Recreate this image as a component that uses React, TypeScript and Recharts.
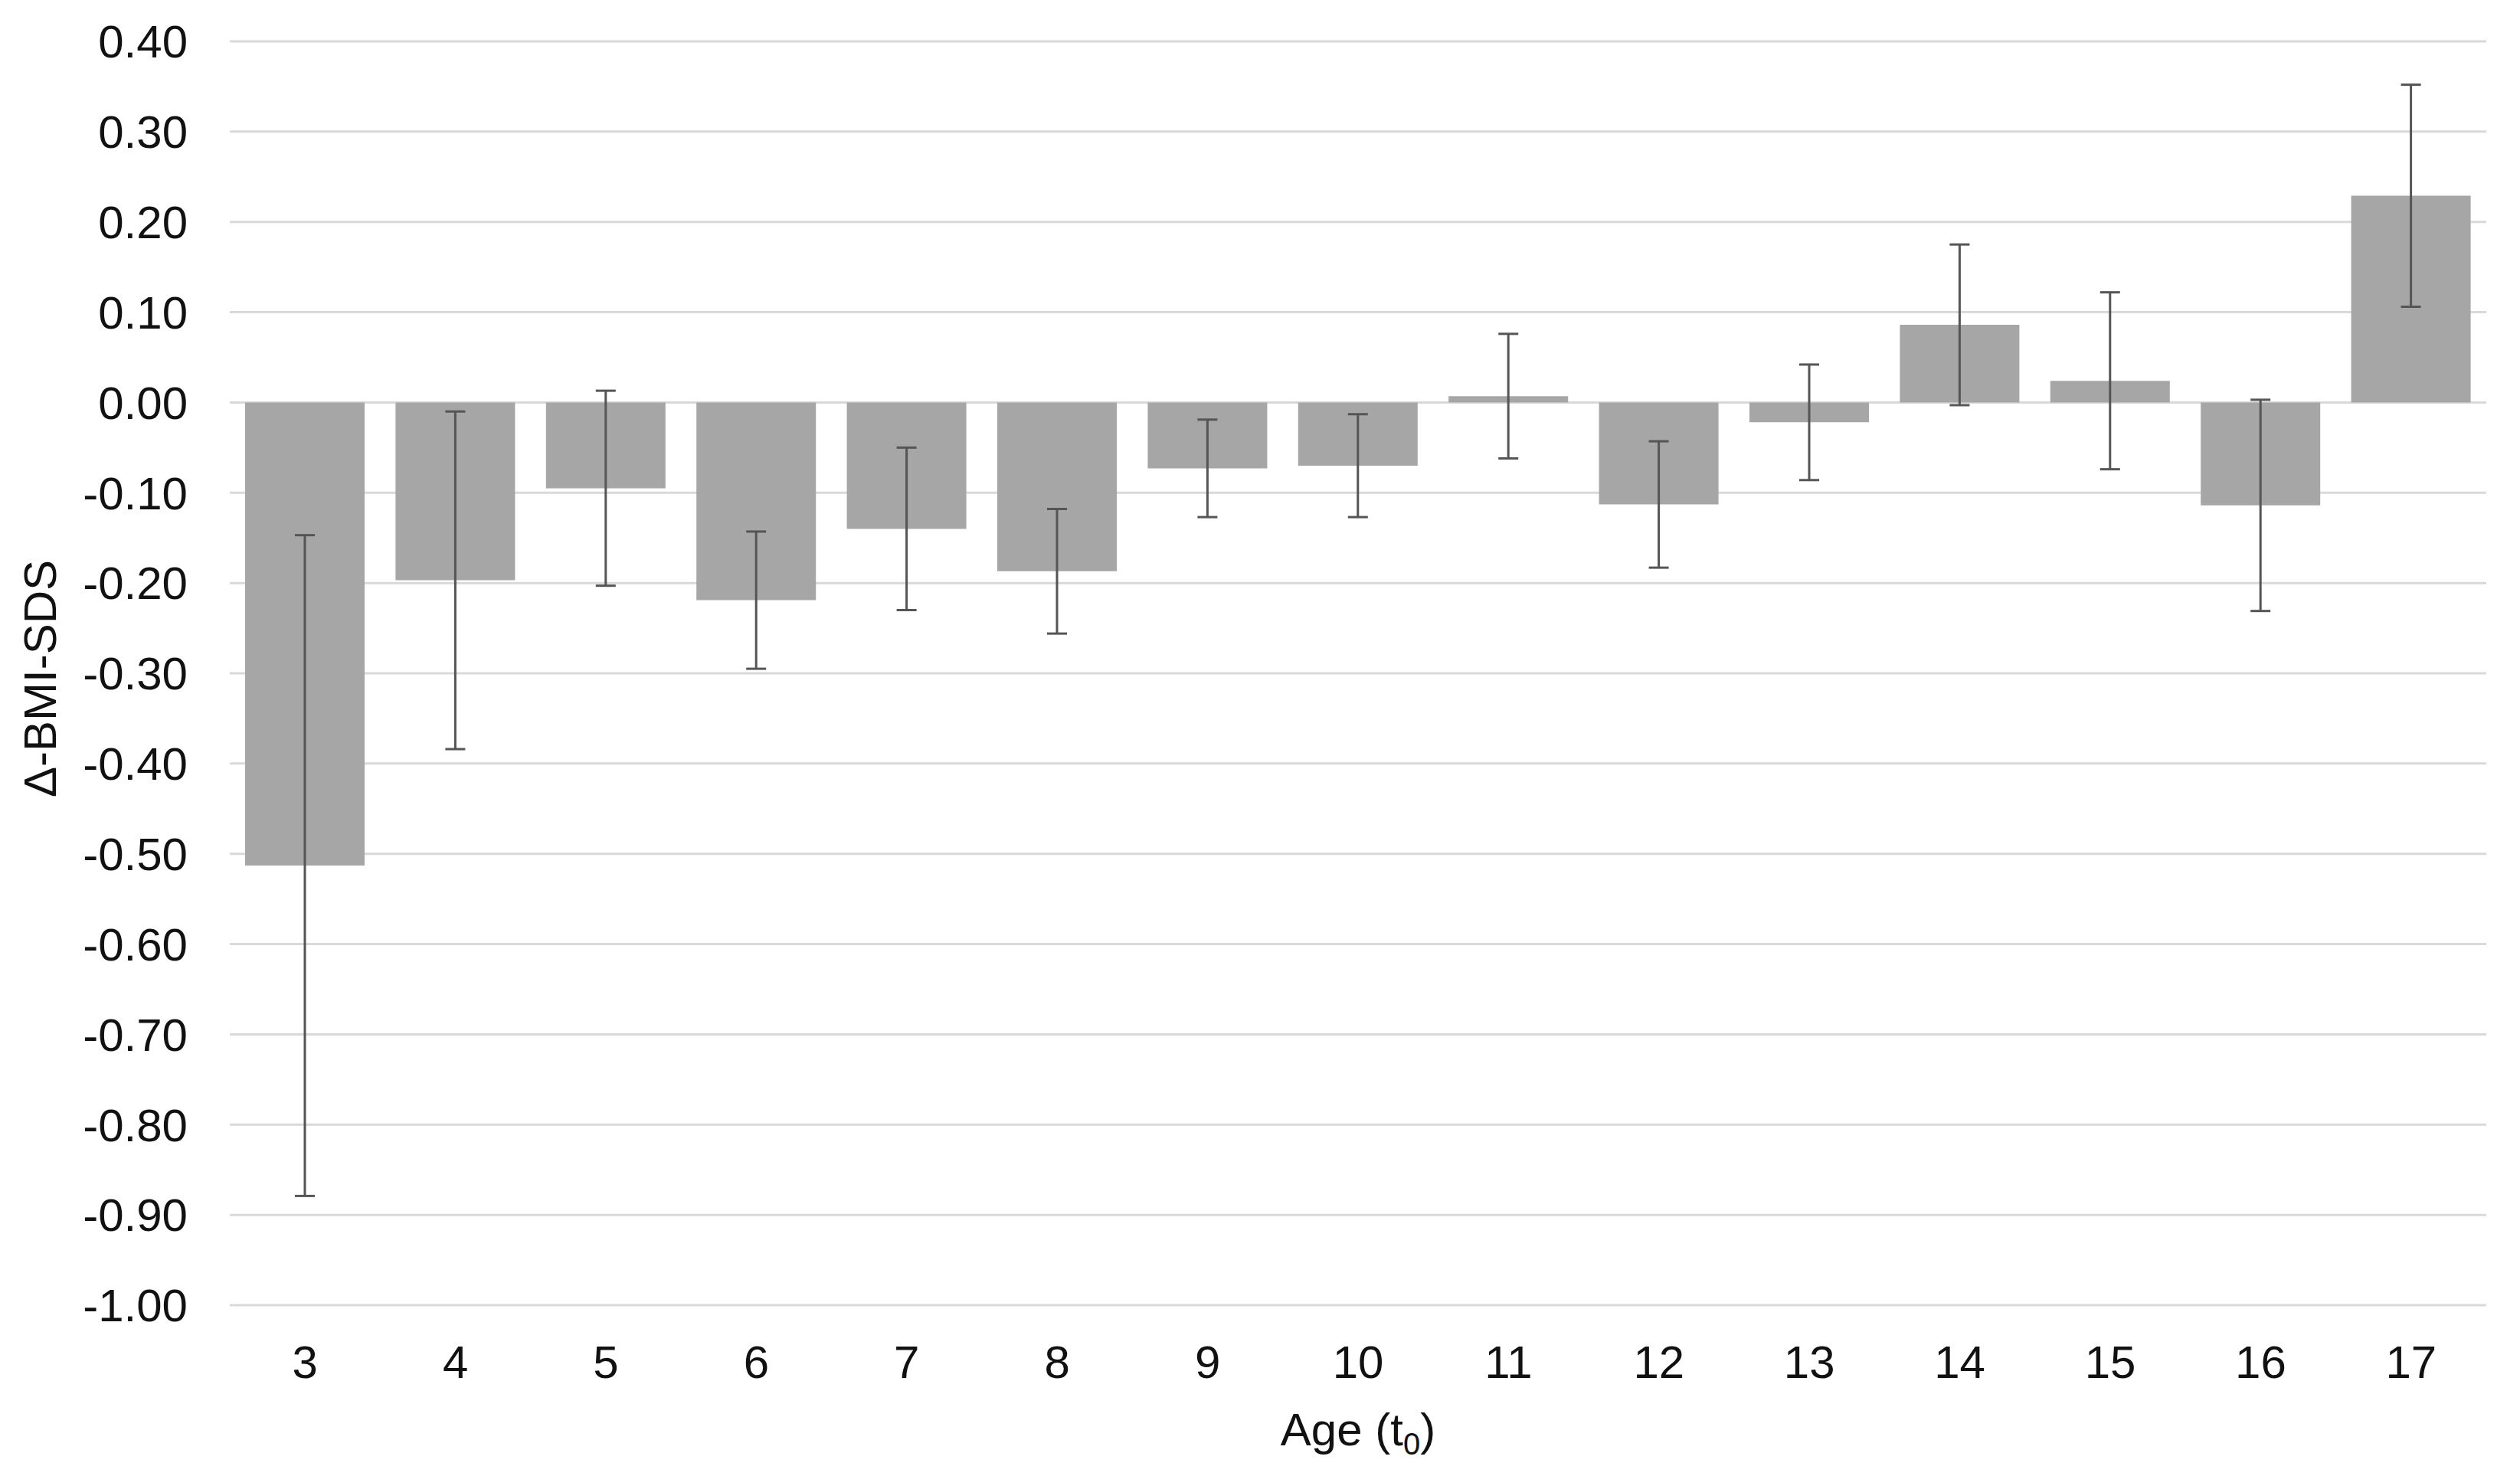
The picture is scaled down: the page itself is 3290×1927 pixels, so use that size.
import { BarChart, Bar, XAxis, YAxis, CartesianGrid, ErrorBar, Label } from 'recharts'

// Age at t0 (category axis)
const ages = ['3', '4', '5', '6', '7', '8', '9', '10', '11', '12', '13', '14', '15', '16', '17']

// Mean change in BMI-SDS per age group
const meanDelta = [
  -0.513, -0.197, -0.095, -0.219, -0.14, -0.187, -0.073, -0.07, 0.007, -0.113, -0.022, 0.086, 0.024,
  -0.114, 0.229,
]

// Half-width of the error bar (same up and down)
const errDelta = [
  0.366, 0.187, 0.108, 0.076, 0.09, 0.069, 0.054, 0.057, 0.069, 0.07, 0.064, 0.089, 0.098, 0.117, 0.123,
]

const yTicks = [0.4, 0.3, 0.2, 0.1, 0, -0.1, -0.2, -0.3, -0.4, -0.5, -0.6, -0.7, -0.8, -0.9, -1.0]

const data = ages.map((age, i) => ({ age, mean: meanDelta[i], err: errDelta[i] }))

const FONT = '"Liberation Sans", Arial, sans-serif'

function YTitle({ viewBox }: { viewBox?: { x: number; y: number; width: number; height: number } }) {
  if (!viewBox) return null
  const cx = viewBox.x + 52
  const cy = viewBox.y + viewBox.height / 2 + 7
  return (
    <text
      x={cx}
      y={cy}
      transform={`rotate(-90, ${cx}, ${cy})`}
      textAnchor="middle"
      dominantBaseline="central"
      fontSize={60}
      fontFamily={FONT}
      fill="#111"
    >
      Δ-BMI-SDS
    </text>
  )
}

function XTitle({ viewBox }: { viewBox?: { x: number; y: number; width: number; height: number } }) {
  if (!viewBox) return null
  const cx = viewBox.x + viewBox.width / 2
  const y = viewBox.y + 183
  return (
    <text x={cx} y={y} textAnchor="middle" fontSize={60} fontFamily={FONT} fill="#111">
      Age (t
      <tspan fontSize={40} dy={12}>
        0
      </tspan>
      <tspan dy={-12}>)</tspan>
    </text>
  )
}

export default function App() {
  return (
    <div style={{ position: 'absolute', left: 0, top: 0, width: 3290, height: 1927, background: '#fff' }}>
      <BarChart
        width={3290}
        height={1927}
        data={data}
        margin={{ top: 54, right: 44, bottom: 0, left: 0 }}
        barSize={156}
      >
        <CartesianGrid vertical={false} stroke="#d9d9d9" strokeWidth={3} />
        <XAxis
          dataKey="age"
          height={223}
          axisLine={false}
          tickLine={false}
          tickSize={0}
          tickMargin={52}
          interval={0}
          tick={{ fontSize: 60, fontFamily: FONT, fill: '#111' }}
        >
          <Label content={<XTitle />} />
        </XAxis>
        <YAxis
          width={300}
          domain={[-1, 0.4]}
          ticks={yTicks}
          interval={0}
          axisLine={false}
          tickLine={false}
          tickSize={0}
          tickMargin={55}
          tickFormatter={(v: number) => v.toFixed(2)}
          tick={{ fontSize: 60, fontFamily: FONT, fill: '#111' }}
        >
          <Label content={<YTitle />} />
        </YAxis>
        <Bar dataKey="mean" fill="#a6a6a6" isAnimationActive={false}>
          <ErrorBar
            dataKey="err"
            direction="y"
            width={13}
            stroke="#555555"
            strokeWidth={3}
            isAnimationActive={false}
          />
        </Bar>
      </BarChart>
    </div>
  )
}
